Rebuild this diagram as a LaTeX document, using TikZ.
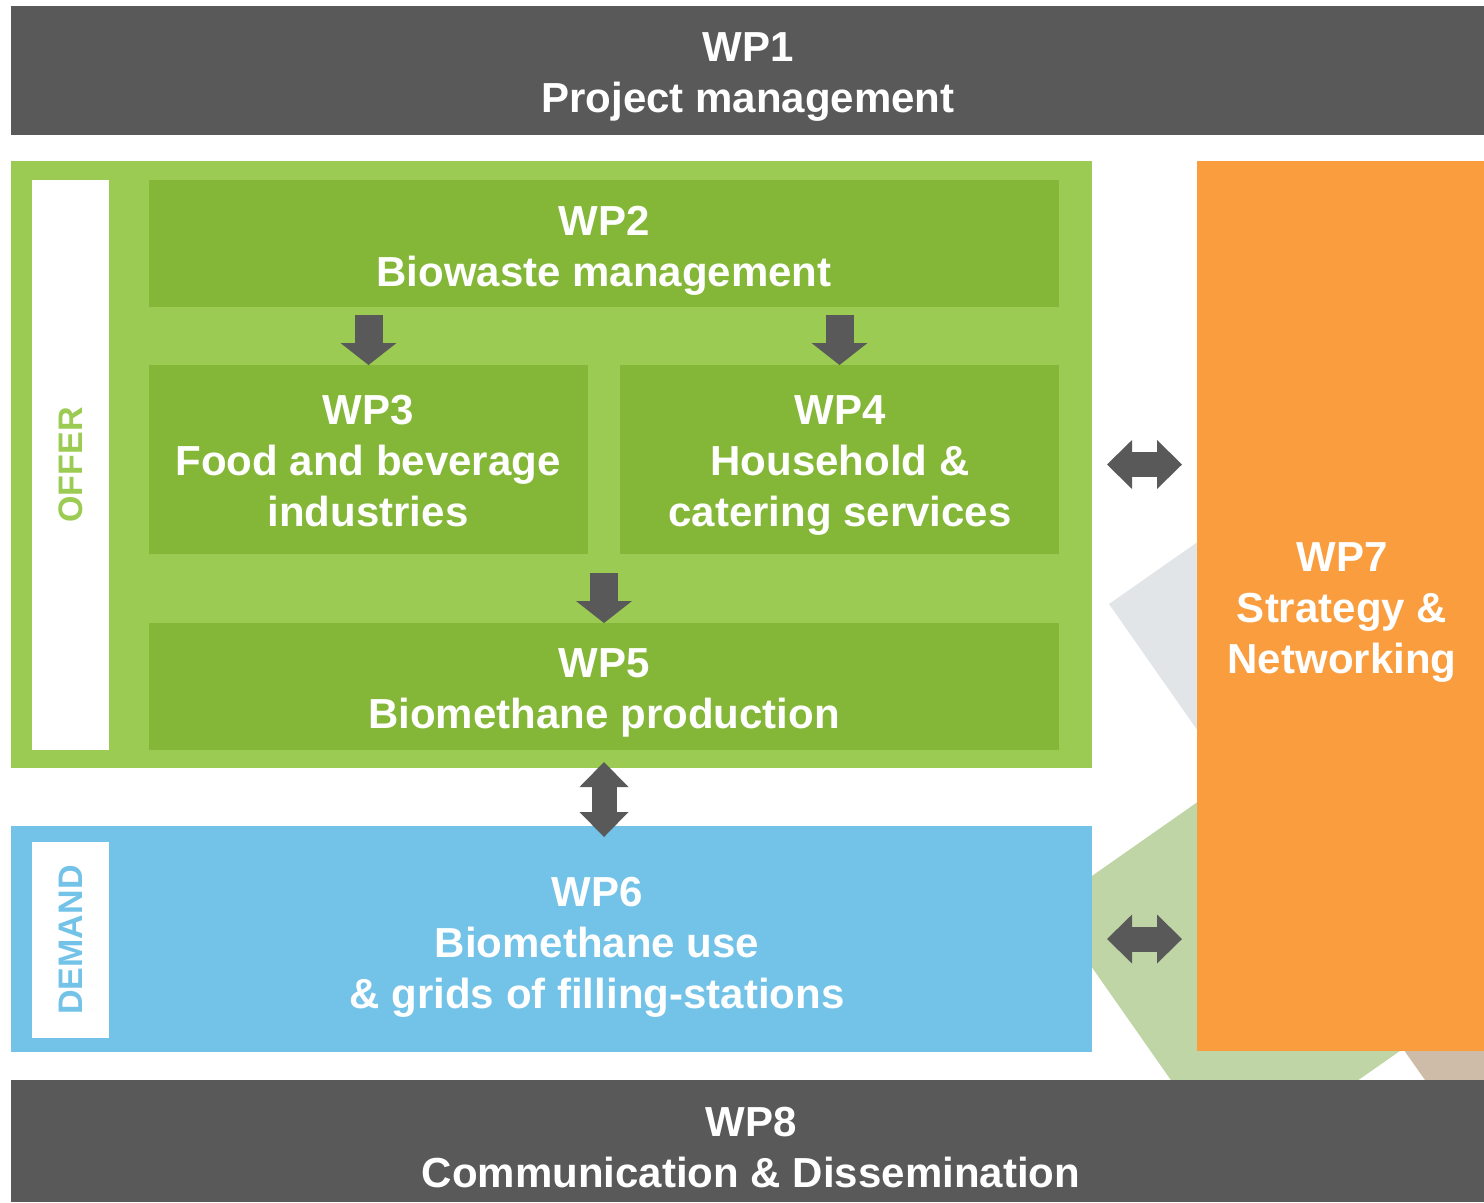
\documentclass[tikz,border=0pt]{standalone}
\usepackage{fontspec}
\setmainfont{Liberation Sans}
\usetikzlibrary{arrows.meta,calc}
\definecolor{dgray}{HTML}{595959}
\definecolor{lgreen}{HTML}{9BCB52}
\definecolor{dgreen}{HTML}{84B737}
\definecolor{sky}{HTML}{73C3E8}
\definecolor{orng}{HTML}{F99D3E}
\definecolor{bggray}{HTML}{E1E5E7}
\definecolor{bggreen}{HTML}{BFD5A5}
\definecolor{bgbrown}{HTML}{CEBCA8}
\begin{document}
\begin{tikzpicture}[x=1bp,y=-1bp,
  box/.style={rectangle, inner sep=0pt, outer sep=0pt, draw=none, anchor=north west},
  lbl/.style={text=white, font=\fontsize{42bp}{51bp}\selectfont\bfseries, align=center, inner sep=0pt, anchor=base},
  side/.style={font=\fontsize{34bp}{40bp}\selectfont\bfseries, rotate=90, inner sep=0pt},
  downarr/.style={draw=dgray, line width=28bp, -{Triangle[width=56bp,length=22bp,line width=0pt]}},
  duoarr/.style={draw=dgray, line width=25bp, {Triangle[width=49bp,length=25bp,line width=0pt]}-{Triangle[width=49bp,length=25bp,line width=0pt]}}
]
\useasboundingbox (0,0) rectangle (1484,1202);
% background decoration
\fill[bggray] (1109,604) -- ++(-35:400) -- ++(55:400) -- ++(145:400) -- cycle;
\fill[bgbrown] (1380,1016) -- (1432,1090) -- (1484,1090) -- (1484,1016) -- cycle;
\fill[bggreen] (1049,906) -- ++(-35:320) -- ++(55:320) -- ++(145:320) -- cycle;
% boxes
\node[box, fill=dgray, minimum width=1473bp, minimum height=129bp] (wp1) at (11,6) {};
\node[box, fill=lgreen, minimum width=1081bp, minimum height=607bp] (offer) at (11,161) {};
\node[box, fill=white, minimum width=77bp, minimum height=570bp] (offerlbl) at (32,180) {};
\node[box, fill=dgreen, minimum width=910bp, minimum height=127bp] (wp2) at (149,180) {};
\node[box, fill=dgreen, minimum width=439bp, minimum height=189bp] (wp3) at (149,365) {};
\node[box, fill=dgreen, minimum width=439bp, minimum height=189bp] (wp4) at (620,365) {};
\node[box, fill=dgreen, minimum width=910bp, minimum height=127bp] (wp5) at (149,623) {};
\node[box, fill=sky, minimum width=1081bp, minimum height=226bp] (wp6) at (11,826) {};
\node[box, fill=white, minimum width=77bp, minimum height=196bp] (demand) at (32,842) {};
\node[box, fill=orng, minimum width=287bp, minimum height=890bp] (wp7) at (1197,161) {};
\node[box, fill=dgray, minimum width=1473bp, minimum height=122bp] (wp8) at (11,1080) {};
% labels (anchor at baseline of last line)
\node[lbl] (wp1t) at (748,112) {WP1\\Project management};
\node[lbl] (wp2t) at (604,286) {WP2\\Biowaste management};
\node[lbl] (wp3t) at (368,526) {WP3\\Food and beverage\\industries};
\node[lbl] (wp4t) at (840,526) {WP4\\Household \&\\catering services};
\node[lbl] (wp5t) at (604,728) {WP5\\Biomethane production};
\node[lbl] (wp6t) at (597,1008) {WP6\\Biomethane use\\\& grids of filling-stations};
\node[lbl] (wp7t) at (1342,673) {WP7\\Strategy \&\\Networking};
\node[lbl] (wp8t) at (751,1187) {WP8\\Communication \& Dissemination};
\node[side, text=lgreen] (offert) at (offerlbl.center) {OFFER};
\node[side, text=sky] (demandt) at (demand.center) {DEMAND};
% arrows
\coordinate (a1) at (wp3.north |- wp2.south);
\draw[downarr] ([yshift=-8bp]a1) -- (wp3.north);
\coordinate (a2) at (wp4.north |- wp2.south);
\draw[downarr] ([yshift=-8bp]a2) -- (wp4.north);
\coordinate (a3) at (wp5.north |- wp3.south);
\draw[downarr] ([yshift=-19bp]a3) -- (wp5.north);
\coordinate (a4) at (wp5.south |- wp6.north);
\draw[duoarr] ([yshift=-12bp]wp5.south) -- ([yshift=-11bp]a4);
\coordinate (a5) at (offer.east -| wp7.west);
\draw[duoarr] ([xshift=15bp]offer.east) -- ([xshift=-15bp]a5);
\coordinate (a6) at (wp6.east -| wp7.west);
\draw[duoarr] ([xshift=15bp]wp6.east) -- ([xshift=-15bp]a6);
\end{tikzpicture}
\end{document}
